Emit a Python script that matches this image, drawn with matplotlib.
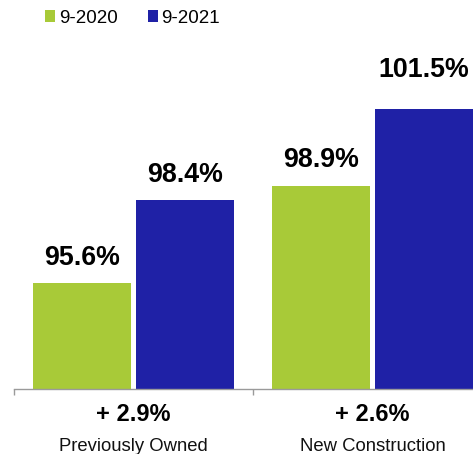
import matplotlib
matplotlib.use("Agg")
import matplotlib.pyplot as plt
from matplotlib.patches import Patch
import numpy as np

categories = ["Previously Owned", "New Construction"]
series_names = ["9-2020", "9-2021"]
values_2020 = [95.6, 98.9]
values_2021 = [98.4, 101.5]
changes = ["+ 2.9%", "+ 2.6%"]

green = "#a8ca38"
blue = "#1f21a6"
font = "Liberation Sans"

W, H = 473, 454
fig = plt.figure(figsize=(W / 100, H / 100), dpi=100)
# axes spans from the left tick to beyond the right edge, baseline near the bottom
ax_left, ax_bottom = 14 / W, (H - 389) / H
ax_w = 478 / W
ax_h = 389 / H
ax = fig.add_axes([ax_left, ax_bottom, ax_w, ax_h])

x = np.arange(len(categories))
off = 0.2146
width = 0.41
b1 = ax.bar(x - off, values_2020, width, color=green, label=series_names[0])
b2 = ax.bar(x + off, values_2021, width, color=blue, label=series_names[1])

ax.set_xlim(-0.5, 1.5)
ax.set_ylim(92.0, 105.19)

# label offsets (points) above each bar; the tallest label sits a bit higher
label_gap = {(0, 0): 13, (0, 1): 13, (1, 0): 13, (1, 1): 23}
for s_idx, (bars, vals) in enumerate(((b1, values_2020), (b2, values_2021))):
    for c_idx, (rect, v) in enumerate(zip(bars, vals)):
        ax.annotate(f"{v:.1f}%", xy=(rect.get_x() + rect.get_width() / 2, v),
                    xytext=(0, label_gap[(c_idx, s_idx)]), textcoords="offset points",
                    ha="center", va="baseline", fontsize=19.3,
                    fontweight="bold", family=font, color="#000000",
                    annotation_clip=False)

for i, (cat, ch) in enumerate(zip(categories, changes)):
    ax.annotate(ch, xy=(i, 0), xycoords=("data", "axes fraction"),
                xytext=(0, -18.5), textcoords="offset points",
                ha="center", va="center", fontsize=17, fontweight="bold",
                family=font, color="#000000", annotation_clip=False)
    ax.annotate(cat, xy=(i, 0), xycoords=("data", "axes fraction"),
                xytext=(0, -44.5), textcoords="offset points",
                ha="center", va="baseline", fontsize=13.3,
                family=font, color="#111111", annotation_clip=False)

for s in ("left", "right", "top"):
    ax.spines[s].set_visible(False)
ax.spines["bottom"].set_color("#9a9a9a")
ax.spines["bottom"].set_linewidth(1.0)
ax.set_xticks([-0.5, 0.5, 1.5])
ax.set_xticklabels([])
ax.tick_params(axis="x", direction="out", length=4.3, color="#9a9a9a", width=1.0)
ax.set_yticks([])

handles = [Patch(facecolor=green, edgecolor="none"), Patch(facecolor=blue, edgecolor="none")]
fig.legend(handles, series_names, loc="upper left",
           bbox_to_anchor=(41 / W, 1 - 6 / H), frameon=False, ncol=2,
           prop={"family": font, "size": 13.5},
           handlelength=0.55, handleheight=0.55, handletextpad=0.2,
           columnspacing=1.6, borderaxespad=0, borderpad=0.2)

fig.savefig("out.png", dpi=100)
